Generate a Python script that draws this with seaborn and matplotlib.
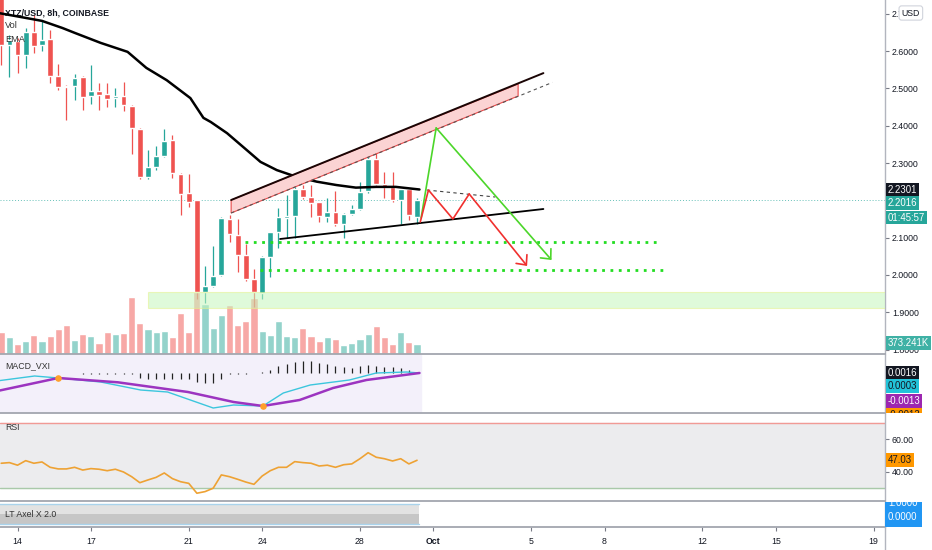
import numpy as np
import matplotlib
matplotlib.use("Agg")
import matplotlib.pyplot as plt
import matplotlib.transforms as mtransforms
from matplotlib.patches import Polygon, Rectangle
from matplotlib.lines import Line2D
from matplotlib.ticker import FormatStrFormatter
import seaborn as sns

# 8h bars, index 0 = Sep 14 00:00
bar_idx = list(range(-2, 50))
opens = [2.750, 2.616, 2.627, 2.590, 2.651, 2.616, 2.632, 2.533, 2.506, 2.506,
         2.530, 2.480, 2.493, 2.485, 2.474, 2.480, 2.453, 2.391, 2.262, 2.289,
         2.319, 2.362, 2.270, 2.220, 2.200, 1.954, 1.970, 2.000, 2.150, 2.107,
         2.053, 1.989, 1.951, 2.048, 2.115, 2.153, 2.157, 2.230, 2.209, 2.195,
         2.155, 2.169, 2.136, 2.163, 2.177, 2.225, 2.311, 2.244, 2.236, 2.200,
         2.230, 2.155]
highs = [2.780, 2.643, 2.635, 2.662, 2.697, 2.683, 2.657, 2.565, 2.510, 2.539,
         2.533, 2.563, 2.514, 2.514, 2.500, 2.517, 2.455, 2.393, 2.335, 2.346,
         2.391, 2.375, 2.272, 2.270, 2.202, 2.024, 2.077, 2.155, 2.160, 2.150,
         2.083, 2.016, 2.050, 2.115, 2.179, 2.214, 2.236, 2.241, 2.241, 2.196,
         2.206, 2.225, 2.165, 2.187, 2.249, 2.316, 2.362, 2.276, 2.276, 2.230,
         2.232, 2.206]
lows = [2.563, 2.530, 2.541, 2.555, 2.595, 2.600, 2.514, 2.497, 2.415, 2.469,
        2.442, 2.458, 2.442, 2.450, 2.450, 2.440, 2.324, 2.258, 2.258, 2.281,
        2.316, 2.260, 2.161, 2.182, 1.935, 1.925, 1.967, 1.997, 2.088, 2.008,
        1.985, 1.914, 1.935, 1.994, 2.072, 2.100, 2.100, 2.204, 2.155, 2.142,
        2.142, 2.131, 2.099, 2.160, 2.175, 2.220, 2.240, 2.206, 2.196, 2.136,
        2.147, 2.136]
closes = [2.616, 2.630, 2.590, 2.651, 2.614, 2.630, 2.533, 2.504, 2.503, 2.528,
          2.477, 2.493, 2.482, 2.472, 2.480, 2.455, 2.394, 2.262, 2.289, 2.319,
          2.359, 2.273, 2.217, 2.195, 1.954, 1.970, 1.997, 2.153, 2.110, 2.053,
          1.989, 1.954, 2.048, 2.115, 2.155, 2.157, 2.230, 2.209, 2.193, 2.158,
          2.169, 2.136, 2.163, 2.177, 2.222, 2.311, 2.244, 2.236, 2.200, 2.230,
          2.160, 2.2016]
volume_k = [807, 602, 361, 458, 686, 458, 650, 891, 1048, 506,
            722, 662, 409, 795, 734, 771, 2071, 1132, 915, 783,
            831, 602, 1481, 783, 2400, 1806, 927, 1421, 1782, 1035,
            1204, 2023, 819, 674, 1204, 662, 626, 939, 650, 470,
            614, 554, 313, 409, 554, 710, 1011, 602, 373, 795,
            433, 373.241]

ema_x = [-2.3, 0.5, 3, 5.5, 7, 10.2, 13.5, 15.8, 18.3, 21.2, 22.8, 23.7,
         25.7, 28.1, 29.8, 31.8, 34.2, 36.7, 39.1, 41.5, 44, 46.4, 49.3]
ema_y = [2.702, 2.691, 2.681, 2.662, 2.649, 2.622, 2.598, 2.555, 2.522, 2.474,
         2.421, 2.410, 2.380, 2.335, 2.303, 2.281, 2.263, 2.250, 2.241, 2.234,
         2.236, 2.236, 2.229]

# MACD (values in 1e-4)
macd_x = [-2.3, 2.1, 5, 10.2, 15.1, 18.4, 21.2, 24, 26.5, 30.1, 32.6, 35.9,
          40.7, 44, 47.7, 49.3]
macd_v = [-8.0, -3.3, -5.3, -9.3, -17.3, -19.3, -27.3, -35.3, -32.3, -33.3,
          -20.3, -12.3, -7.3, -0.3, 0.7, -0.3]
signal_x = [-2.3, 5, 12.3, 20.9, 26.5, 30.1, 34.6, 38.7, 42.8, 49.3]
signal_v = [-18.0, -5.3, -9.6, -19.3, -29.3, -33.3, -27.3, -15.3, -7.3, -0.3]
macd_hist = [0, 0, 0, 0, 0, 0, 0, 0,
             -0.5, -0.7, -0.8, -1.0, -1.0, -1.2, -1.3, -1.3, -1.5,
             -5.5, -5.8, -6, -6, -6, -6, -6.5, -9, -10.5, -10, -6.5,
             -1.3, -1.0, -0.8, -0.5, 0.5,
             2.5, 6.5, 8.5, 10.5, 11.5, 11.5, 10, 8.5, 6.5, 6, 4.3, 6.5, 7.5,
             6.5, 6, 5.3, 4.3, 2.7, 0.5]
cross_x = [5, 30.1]
cross_v = [-5.3, -33.3]

rsi = [45.2, 45.6, 44.0, 46.8, 45.2, 46.0, 42.7, 41.7, 41.7, 42.7,
       41.0, 41.9, 41.5, 40.6, 41.5, 39.8, 36.9, 33.2, 34.9, 36.5,
       39.2, 35.7, 33.8, 32.8, 26.7, 27.7, 29.8, 38.0, 36.9, 35.3,
       33.6, 32.2, 37.3, 40.6, 42.7, 42.7, 46.2, 45.6, 45.2, 43.5,
       44.0, 42.7, 44.3, 44.8, 48.0, 51.7, 48.9, 48.0, 46.6, 48.0,
       44.8, 47.03]

day_ticks = [0, 9, 21, 30, 42, 51, 63, 72, 84, 93, 105]
day_labels = ['14', '17', '21', '24', '28', 'Oct', '5', '8', '12', '15', '19']
price_ticks = [1.8, 1.9, 2.0, 2.1, 2.3, 2.4, 2.5, 2.6, 2.7]

# drawings on the price chart (bar index, price)
channel_x = [26.2, 61.4]
channel_top = [2.2008, 2.5118]
channel_bot = [2.166, 2.4796]
upper_x = [26.2, 64.5]
upper_y = [2.2008, 2.541]
lower_dash_x = [26.2, 65.6]
lower_dash_y = [2.166, 2.516]
support_x = [32.2, 64.5]
support_y = [2.0963, 2.1767]
tri_dash_x = [50.2, 58.6]
tri_dash_y = [2.2276, 2.2088]
target_y = [2.088, 2.013]
target_x0 = [27.9, 29.75]
target_x1 = [78.5, 79.4]
bull_x = [49.5, 51.35, 65.5]
bull_y = [2.1525, 2.394, 2.040]
bear_x = [49.4, 50.4, 53.4, 55.4, 62.5]
bear_y = [2.142, 2.2276, 2.150, 2.217, 2.024]
zone_x0 = 16.0
zone_lo, zone_hi = 1.911, 1.954
last_price = 2.2016

sns.set_style("white")
plt.rcParams['font.family'] = ['Liberation Sans', 'DejaVu Sans']
FS = 6.3
TFS = 6.9
DARK = '#131722'
UP, DOWN = '#26a69a', '#ef5350'

W, H = 932, 550
fig = plt.figure(figsize=(W / 100, H / 100), dpi=100)
fig.patch.set_facecolor('white')


def rect(top, bot, left=0, width=885):
    return [left / W, 1 - bot / H, width / W, (bot - top) / H]


ax_vol = fig.add_axes(rect(0, 354))
ax = fig.add_axes(rect(0, 354), sharex=ax_vol)
ax_macd = fig.add_axes(rect(355, 413), sharex=ax)
ax_rsi = fig.add_axes(rect(414, 501), sharex=ax)
ax_lt = fig.add_axes(rect(502, 527), sharex=ax)
panels = [ax, ax_macd, ax_rsi, ax_lt]

ax.patch.set_visible(False)
ax_vol.axis('off')

# volume
vol = np.array(volume_k) * 1000
up = np.array(closes) >= np.array(opens)
vol_colors = np.where(up, '#94d3cb', '#f7a8a6')
ax_vol.bar(bar_idx, vol, width=0.88, color=vol_colors)
ax_vol.set_ylim(0, 354 * 36.1e3)

# candles
colors = np.where(up, UP, DOWN)
o, c = np.array(opens), np.array(closes)
ax.vlines(bar_idx, lows, highs, colors=colors, lw=0.9, zorder=3)
ax.bar(bar_idx, np.maximum(np.abs(c - o), 0.002), bottom=np.minimum(o, c),
       width=0.7, color=colors, zorder=3)

sns.lineplot(x=ema_x, y=ema_y, ax=ax, color='black', linewidth=1.8, zorder=4)

ax.axhline(last_price, color=UP, lw=0.7, ls=(0, (1, 2)), alpha=0.7, zorder=2)

ax.add_patch(Rectangle((zone_x0, zone_lo), 120, zone_hi - zone_lo,
                       fc='#c6f7bd', ec='#e4f28c', lw=0.8, alpha=0.55, zorder=3.5))

ax.add_patch(Polygon([(channel_x[0], channel_top[0]), (channel_x[1], channel_top[1]),
                      (channel_x[1], channel_bot[1]), (channel_x[0], channel_bot[0])],
                     closed=True, fc='#fbd3d3', ec='#e84a4a', lw=0.8, zorder=5))
ax.plot(upper_x, upper_y, color='#1a0505', lw=1.4, zorder=5.5)
ax.plot(lower_dash_x, lower_dash_y, color='#555555', lw=0.8, ls=(0, (3, 3)), zorder=5.5)
ax.plot(support_x, support_y, color='black', lw=1.3, zorder=5.5)
ax.plot(tri_dash_x, tri_dash_y, color='#444444', lw=0.8, ls=(0, (3, 3)), zorder=5.5)
for y, x0, x1 in zip(target_y, target_x0, target_x1):
    ax.plot([x0, x1], [y, y], color='#22dd22', lw=2.0, ls=(0, (1, 2)), zorder=5)

for px, py, col in [(bull_x, bull_y, '#4cd62a'), (bear_x, bear_y, '#f0302e')]:
    ax.plot(px[:-1], py[:-1], color=col, lw=1.2, zorder=6)
    ax.annotate('', xy=(px[-1], py[-1]), xytext=(px[-2], py[-2]),
                arrowprops=dict(arrowstyle='->,head_length=0.55,head_width=0.5',
                                color=col, lw=1.2, shrinkA=0, shrinkB=0),
                zorder=6)

ax.set_ylim(1.788, 2.737)
ax.set_xlim(-2.15, 106.4)

ax.text(5 / 885, 1 - 13 / 354, 'XTZ/USD, 8h, COINBASE', transform=ax.transAxes,
        fontsize=6.3, fontweight='bold', color=DARK, va='center')
ax.text(5 / 885, 1 - 26 / 354, 'Vol', transform=ax.transAxes,
        fontsize=6.6, color='#333333', va='center')
ax.text(5 / 885, 1 - 40 / 354, 'EMA', transform=ax.transAxes,
        fontsize=6.6, color='#333333', va='center')

# MACD panel
ax_macd.axvspan(-3, 49.5, color='#f3f0fa', zorder=0)
ax_macd.vlines(bar_idx, 0, np.array(macd_hist) * 1e-4, colors='#222222', lw=0.9)
sns.lineplot(x=macd_x, y=np.array(macd_v) * 1e-4, ax=ax_macd, color='#3cc6dd', linewidth=1.0)
sns.lineplot(x=signal_x, y=np.array(signal_v) * 1e-4, ax=ax_macd, color='#9c34c0', linewidth=1.8)
ax_macd.scatter(cross_x, np.array(cross_v) * 1e-4, s=14, color='#ff9f2a', zorder=5)
ax_macd.set_ylim(-0.00403, 0.00177)
ax_macd.set_yticks([])
ax_macd.text(5 / 885, 0.82, 'MACD_VXI', transform=ax_macd.transAxes,
             fontsize=FS, color='#333333', va='center')

# RSI panel
ax_rsi.axhspan(30, 70, color='#ececee', zorder=0)
ax_rsi.axhline(70, color='#f19a95', lw=1.0)
ax_rsi.axhline(30, color='#a9c9a9', lw=1.0)
sns.lineplot(x=bar_idx, y=rsi, ax=ax_rsi, color='#eea234', linewidth=1.2)
ax_rsi.set_ylim(21.9, 75.6)
ax_rsi.yaxis.tick_right()
ax_rsi.set_yticks([40, 60])
ax_rsi.yaxis.set_major_formatter(FormatStrFormatter('%.2f'))
ax_rsi.text(5 / 885, 0.85, 'RSI', transform=ax_rsi.transAxes,
            fontsize=FS, color='#333333', va='center')

# LT Axel panel
lt_x = [-3, 49.3]
ax_lt.fill_between(lt_x, 0.21, 0.93, color='#e2e2e2', lw=0)
ax_lt.fill_between(lt_x, -0.5, 0.21, color='#c6c6c6', lw=0)
ax_lt.plot(lt_x, [0.93, 0.93], color='#a9d3ec', lw=1.0)
ax_lt.plot(lt_x, [-0.5, -0.5], color='#a9d3ec', lw=1.0)
ax_lt.set_ylim(-0.71, 1.07)
ax_lt.set_yticks([])
ax_lt.text(5 / 885, 0.5, 'LT Axel X 2.0', transform=ax_lt.transAxes,
           fontsize=FS, color='#333333', va='center')

# axes styling
ax.yaxis.tick_right()
ax.set_yticks(price_ticks)
ax.yaxis.set_major_formatter(FormatStrFormatter('%.4f'))
for a in panels:
    for s in ['top', 'left']:
        a.spines[s].set_visible(False)
    a.spines['right'].set_color('#b2b5be')
    a.spines['right'].set_linewidth(1.0)
    a.spines['bottom'].set_color('#a3a6af')
    a.spines['bottom'].set_linewidth(1.3)
    a.tick_params(axis='y', length=3, width=0.8, color='#787b86', labelsize=FS,
                  labelcolor=DARK, pad=2, right=True, left=False)
    a.tick_params(axis='x', bottom=False, labelbottom=False)
    a.set_xlabel('')
    a.set_ylabel('')
    a.grid(False)

ax_lt.set_xticks(day_ticks)
ax_lt.set_xticklabels(day_labels)
ax_lt.tick_params(axis='x', bottom=True, labelbottom=True, length=3, width=0.8,
                  color='#787b86', labelsize=FS, labelcolor=DARK, pad=4)
ax_lt.get_xticklabels()[5].set_fontweight('bold')
ax.set_xlim(-2.15, 106.4)

fig.add_artist(Line2D([885 / W, 885 / W], [0, 23 / H], transform=fig.transFigure,
                      color='#b2b5be', lw=1.0))


# right-hand scale tags
def strip(top, bot, share):
    s = fig.add_axes(rect(top, bot, 885, 47), sharey=share)
    s.axis('off')
    s.set_xlim(0, 1)
    return s


def tag(s, y, text, fc, tc='white', x=0.06):
    s.text(x, y, text, transform=mtransforms.blended_transform_factory(s.transAxes, s.transData),
           fontsize=TFS, color=tc, va='center', ha='left', clip_on=True,
           bbox=dict(boxstyle='square,pad=0.2', fc=fc, ec='none'))


s_main = strip(0, 354, ax)
tag(s_main, 2.2276, '2.2301', DARK)
tag(s_main, 2.1928, '2.2016', UP)
tag(s_main, 2.1539, '01:45:57', UP)
tag(s_main, 1.8174, '373.241K', '#3fb1a5')
s_main.text(0.55, 1 - 13 / 354, 'USD', transform=s_main.transAxes, ha='center', va='center',
            fontsize=FS, color=DARK,
            bbox=dict(boxstyle='round,pad=0.3', fc='white', ec='#d1d4dc', lw=0.8))

s_macd = strip(355, 413, ax_macd)
tag(s_macd, 0.0, '0.0016', DARK)
tag(s_macd, -0.00133, '0.0003', '#22c3d9', tc=DARK)
tag(s_macd, -0.0028, '-0.0013', '#9c27b0')
tag(s_macd, -0.00425, '-0.0013', '#ff9800', tc=DARK)

s_rsi = strip(414, 501, ax_rsi)
tag(s_rsi, 47.03, '47.03', '#ff9800', tc=DARK)

s_lt = strip(502, 527, ax_lt)
s_lt.add_patch(Rectangle((0, -0.71), 0.79, 1.9, transform=mtransforms.blended_transform_factory(
    s_lt.transAxes, s_lt.transData), fc='#2196f3', ec='none'))
tag(s_lt, 1.0, '1.0000', '#2196f3')
tag(s_lt, 0.0, '0.0000', '#2196f3')

fig.savefig('out.png', dpi=100, facecolor='white')
